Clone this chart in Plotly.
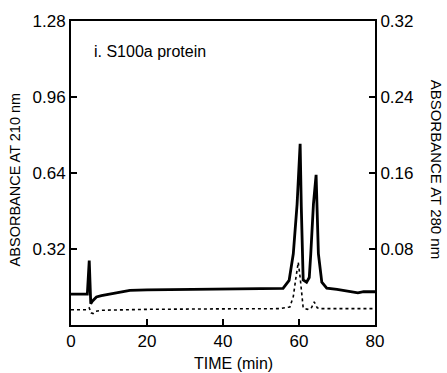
import plotly.graph_objects as go

# 210 nm trace (left axis)
t210 = [0, 3, 4.3, 4.8, 5.2, 5.6, 6.7, 8, 10, 12, 15.5, 20, 30, 40, 50, 55, 55.8, 57.4, 58.5, 59.5, 60.3, 60.6, 61.1, 62.0, 62.7, 63.1, 63.8, 64.5, 65.1, 66.0, 67.3, 70, 74, 75.5, 77, 80]
a210 = [0.13, 0.13, 0.13, 0.271, 0.09, 0.1, 0.118, 0.124, 0.13, 0.137, 0.146, 0.148, 0.15, 0.15, 0.152, 0.152, 0.154, 0.188, 0.30, 0.509, 0.763, 0.5, 0.19, 0.18, 0.2, 0.30, 0.509, 0.632, 0.30, 0.18, 0.155, 0.15, 0.14, 0.135, 0.14, 0.14]

# 280 nm trace (right axis)
t280 = [0, 4, 4.8, 5.3, 5.8, 6.5, 8, 10, 20, 40, 55, 57.6, 58.5, 59.2, 59.8, 60.3, 61.1, 62.2, 63.2, 64.0, 64.8, 65.8, 70, 80]
a280 = [0.0160, 0.0160, 0.018, 0.0128, 0.012, 0.0145, 0.0155, 0.0158, 0.0165, 0.0170, 0.0172, 0.019, 0.03, 0.05, 0.066, 0.05, 0.018, 0.0165, 0.0175, 0.0243, 0.018, 0.0172, 0.0172, 0.0172]

xticks = [0, 20, 40, 60, 80]
yticks_left = [0.32, 0.64, 0.96, 1.28]
yticks_right = [0.08, 0.16, 0.24, 0.32]

font_main = "Liberation Sans, Arial, sans-serif"

fig = go.Figure()
fig.add_trace(go.Scatter(x=t210, y=a210, mode="lines",
                         line=dict(color="black", width=2.8), yaxis="y"))
fig.add_trace(go.Scatter(x=t280, y=a280, mode="lines",
                         line=dict(color="black", width=1.6, dash="dot"), yaxis="y2"))

axis_common = dict(ticks="inside", ticklen=6, tickwidth=2, tickcolor="black",
                   showline=True, linecolor="black", linewidth=2, showgrid=False,
                   zeroline=False, tickfont=dict(size=17, family=font_main))

fig.update_layout(
    width=447, height=373,
    margin=dict(l=71, r=72, t=18, b=48),
    paper_bgcolor="white", plot_bgcolor="white",
    showlegend=False,
    font=dict(family=font_main, color="black"),
    xaxis=dict(range=[0, 80], tickvals=xticks, mirror=True, **axis_common),
    yaxis=dict(range=[0, 1.28], tickvals=yticks_left,
               ticktext=["0.32", "0.64", "0.96", "1.28"], **axis_common),
    yaxis2=dict(range=[0, 0.32], overlaying="y", side="right", tickvals=yticks_right,
                ticktext=["0.08", "0.16", "0.24", "0.32"], **axis_common),
    annotations=[
        dict(text="i. S100a protein", x=0.07, y=0.9, xref="paper", yref="paper",
             xanchor="left", yanchor="middle", showarrow=False, font=dict(size=16)),
        dict(text="ABSORBANCE AT 210 nm", x=0, xshift=-56, y=0.479, xref="paper", yref="paper",
             xanchor="center", yanchor="middle",
             showarrow=False, textangle=-90, font=dict(size=14.5)),
        dict(text="ABSORBANCE AT 280 nm", x=1, xshift=61, y=0.511, xref="paper", yref="paper",
             xanchor="center", yanchor="middle",
             showarrow=False, textangle=90, font=dict(size=15)),
        dict(text="TIME (min)", x=0.5, xshift=10, y=0, yshift=-38, xref="paper", yref="paper",
             xanchor="center", yanchor="middle",
             showarrow=False, font=dict(size=16)),
    ],
)

fig.write_html("out.html")
